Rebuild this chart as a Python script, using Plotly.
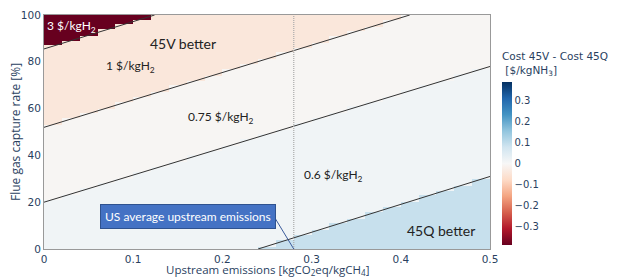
import numpy as np
import plotly.graph_objects as go

# ---- data ----
# boundary lines between credit tiers (emissions x, capture rate y)
boundary_x_start = [0.24, 0.0, 0.0, 0.0]
boundary_y_start = [0.0, 20.0, 52.0, 85.5]
boundary_x_end = [0.5, 0.5, 0.41, 0.124]
boundary_y_end = [31.0, 78.0, 100.0, 100.0]

# cost difference (45V - 45Q) in each region, from bottom-right to top-left
band_names = ["45Q better", "0.6 $/kgH2", "0.75 $/kgH2", "1 $/kgH2", "3 $/kgH2"]
band_cost_diff = [0.09, 0.014, -0.006, -0.045, -0.39]

# heatmap cell centres
emission_cells = [0.01, 0.03, 0.05, 0.07, 0.09, 0.11, 0.13, 0.15, 0.17, 0.19,
                  0.21, 0.23, 0.25, 0.27, 0.29, 0.31, 0.33, 0.35, 0.37, 0.39,
                  0.41, 0.43, 0.45, 0.47, 0.49]
capture_cells = list(np.arange(0.5, 100, 1.0))

us_avg_emissions = 0.28

rdbu = [[0.0, 'rgb(103,0,31)'], [0.1, 'rgb(178,24,43)'], [0.2, 'rgb(214,96,77)'],
        [0.3, 'rgb(244,165,130)'], [0.4, 'rgb(253,219,199)'], [0.5, 'rgb(247,247,247)'],
        [0.6, 'rgb(209,229,240)'], [0.7, 'rgb(146,197,222)'], [0.8, 'rgb(67,147,195)'],
        [0.9, 'rgb(33,102,172)'], [1.0, 'rgb(5,48,97)']]

# classify each cell according to the boundary lines
def line_y(i, x):
    x0, y0, x1, y1 = boundary_x_start[i], boundary_y_start[i], boundary_x_end[i], boundary_y_end[i]
    return y0 + (y1 - y0) / (x1 - x0) * (x - x0)

z = []
for yc in capture_cells:
    row = []
    for xc in emission_cells:
        k = 0
        for i in range(len(boundary_x_start)):
            if yc > line_y(i, xc):
                k = i + 1
        row.append(band_cost_diff[k])
    z.append(row)

fig = go.Figure()
fig.add_trace(go.Heatmap(
    x=emission_cells, y=capture_cells, z=z,
    colorscale=rdbu, zmin=-0.39, zmax=0.39,
    colorbar=dict(
        title=dict(text="Cost 45V - Cost 45Q<br> [$/kgNH<sub>3</sub>]", side="top",
                   font=dict(family="DejaVu Sans, Verdana", size=10.5, color="#2a3f5f")),
        x=1.027, xanchor="left", y=0.017, yanchor="bottom", len=0.838, lenmode="fraction",
        thickness=10, outlinewidth=0, tickvals=[-0.3, -0.2, -0.1, 0, 0.1, 0.2, 0.3],
        ticktext=["\u22120.3", "\u22120.2", "\u22120.1", "0", "0.1", "0.2", "0.3"],
        tickfont=dict(family="DejaVu Sans, Verdana", size=10, color="#2a3f5f"),
        ticklen=0, xpad=0, ypad=0,
    ),
    hoverinfo="skip",
))

for i in range(len(boundary_x_start)):
    fig.add_trace(go.Scatter(
        x=[boundary_x_start[i], boundary_x_end[i]],
        y=[boundary_y_start[i], boundary_y_end[i]],
        mode="lines", line=dict(color="#333333", width=1), showlegend=False, hoverinfo="skip"))

fig.add_trace(go.Scatter(
    x=[us_avg_emissions, us_avg_emissions], y=[0, 100], mode="lines",
    line=dict(color="#aaaaaa", width=1.2, dash="1px,1px"), showlegend=False, hoverinfo="skip"))

fig.add_trace(go.Scatter(
    x=[0.259, us_avg_emissions], y=[13.2, 0], mode="lines",
    line=dict(color="#3A5A9A", width=1), showlegend=False, hoverinfo="skip"))

lab_font = "Lato, Carlito, Calibri, sans-serif"
labels = [
    (0.031, 95.3, "3 $/kgH<sub>2</sub>", "white", 12),
    (0.156, 88.0, "45V better", "#222222", 14),
    (0.0975, 78.2, "1 $/kgH<sub>2</sub>", "#222222", 12),
    (0.198, 56.0, "0.75 $/kgH<sub>2</sub>", "#222222", 12),
    (0.324, 31.6, "0.6 $/kgH<sub>2</sub>", "#222222", 12),
    (0.445, 7.7, "45Q better", "#222222", 14),
]
for x, y, t, c, s in labels:
    fig.add_annotation(x=x, y=y, text=t, showarrow=False,
                       font=dict(family=lab_font, size=s, color=c))

fig.add_annotation(x=0.161, y=14.1, text="US average upstream emissions", showarrow=False,
                   font=dict(family=lab_font, size=12, color="white"),
                   bgcolor="#4472C4", bordercolor="#2F528F", borderwidth=1, borderpad=4)

# axis titles placed as paper annotations
fig.add_annotation(xref="paper", yref="paper", x=0.5, y=-0.091, yanchor="middle",
                   text="Upstream emissions [kgCO<sub>2</sub>eq/kgCH<sub>4</sub>]", showarrow=False,
                   font=dict(family="Open Sans", size=11.5, color="#2a3f5f"))
fig.add_annotation(xref="paper", yref="paper", x=-0.065, y=0.5, xanchor="center",
                   text="Flue gas capture rate [%]", showarrow=False, textangle=-90,
                   font=dict(family="Open Sans", size=12, color="#2a3f5f"))

axis_common = dict(showgrid=False, zeroline=False, showline=True, linecolor="#999999",
                   linewidth=1, mirror=True, ticks="",
                   tickfont=dict(family="DejaVu Sans, Verdana", size=10.5, color="#2a3f5f"))
fig.update_xaxes(range=[0, 0.5], tickvals=[0, 0.1, 0.2, 0.3, 0.4, 0.5], **axis_common)
fig.update_yaxes(range=[0, 100], tickvals=[0, 20, 40, 60, 80, 100], **axis_common)

# page body adds an 8px offset, so the figure is 8px smaller and margins shifted
fig.update_layout(width=610, height=269,
                  margin=dict(l=36, r=128, t=7, b=28, autoexpand=False),
                  paper_bgcolor="white", plot_bgcolor="white", showlegend=False)

fig.write_html("out.html")
